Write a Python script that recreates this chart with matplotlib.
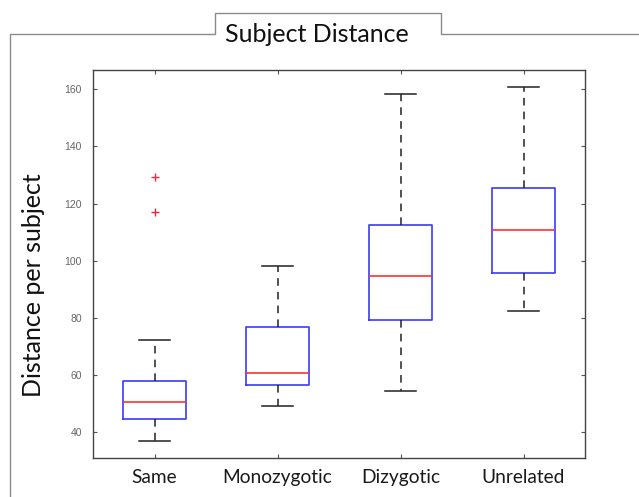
import matplotlib
matplotlib.use("Agg")
import matplotlib.pyplot as plt
from matplotlib.lines import Line2D

categories = ["Same", "Monozygotic", "Dizygotic", "Unrelated"]
whisker_low = [36.7, 49.2, 54.4, 82.4]
q1 = [44.3, 56.4, 79.2, 95.5]
median = [50.3, 60.7, 94.7, 110.7]
q3 = [57.8, 76.8, 112.4, 125.5]
whisker_high = [72.1, 98.1, 158.4, 160.7]
outliers = [[117.1, 129.2], [], [], []]
y_ticks = [40, 60, 80, 100, 120, 140, 160]

W, H = 639, 497
fig = plt.figure(figsize=(W / 100, H / 100), dpi=100)
fig.patch.set_facecolor("white")

left, right, top, bottom = 93, 585, 70, 458
ax = fig.add_axes([left / W, 1 - bottom / H, (right - left) / W, (bottom - top) / H])

stats = []
for i, c in enumerate(categories):
    stats.append(dict(label=c, whislo=whisker_low[i], q1=q1[i], med=median[i],
                      q3=q3[i], whishi=whisker_high[i], fliers=outliers[i]))

ax.bxp(stats, positions=range(1, len(categories) + 1), widths=0.51,
       capwidths=0.25, showfliers=True,
       boxprops=dict(color="#3a3aff", linewidth=1.2),
       medianprops=dict(color="#ff3030", linewidth=1.2),
       whiskerprops=dict(color="#222222", linewidth=1.1, linestyle=(0, (5, 4))),
       capprops=dict(color="#222222", linewidth=1.1),
       flierprops=dict(marker="+", markeredgecolor="#e03040", markersize=6,
                       linestyle="none", markeredgewidth=1.0))

ax.set_xlim(0.5, 4.5)
ax.set_ylim(30.8, 166.8)
ax.set_yticks(y_ticks)
ax.set_yticklabels([str(v) for v in y_ticks], fontsize=7.5, color="#666666",
                   family="Liberation Sans")
ax.set_xticks(range(1, len(categories) + 1))
ax.set_xticklabels(categories, fontsize=13.8, color="#1a1a1a", family="Lato")
ax.tick_params(direction="in", length=3, width=0.8, color="#555555",
               top=True, right=True)
ax.tick_params(axis="x", pad=8)
ax.tick_params(axis="y", pad=8)
for s in ax.spines.values():
    s.set_color("#444444")
    s.set_linewidth(1.0)

ax.set_ylabel("Distance per subject", fontsize=18, family="Lato", color="#111111")
ax.yaxis.set_label_coords(-0.097, 0.446)

fig.text(317 / W, 1 - 35 / H, "Subject Distance", fontsize=18, family="Lato",
         color="#111111", ha="center", va="center")

# tab-shaped frame around the panel
fx = [10, 10, 215, 215, 441, 441, 639]
fy = [497, 34, 34, 13, 13, 34, 34]
fig.add_artist(Line2D([x / W for x in fx], [1 - y / H for y in fy],
                      transform=fig.transFigure, color="#8a8a8a", linewidth=1.0))

fig.savefig("out.png", dpi=100)
